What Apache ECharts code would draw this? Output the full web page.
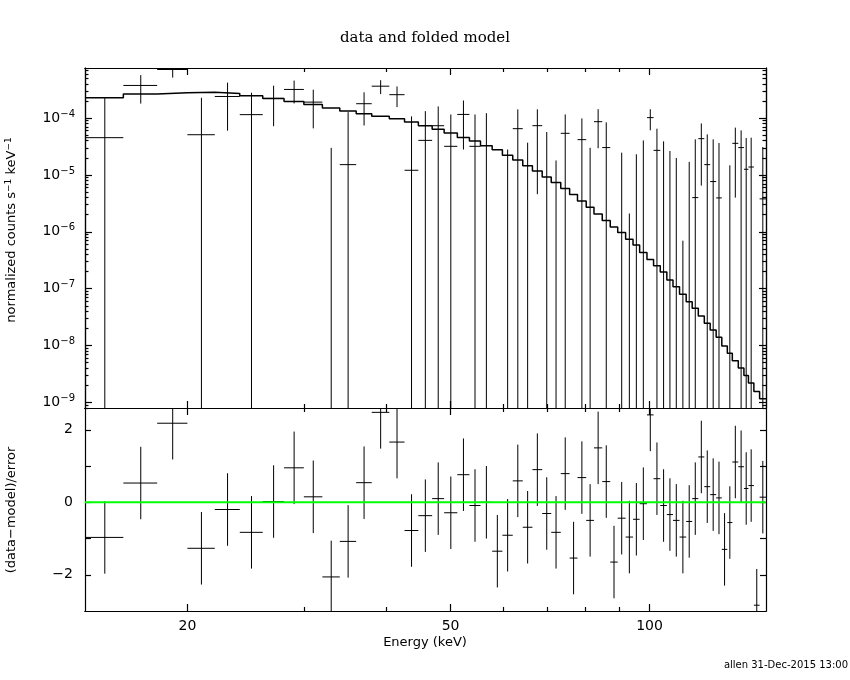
<!DOCTYPE html>
<html>
<head>
<meta charset="utf-8">
<script src="https://cdn.jsdelivr.net/npm/echarts@6/dist/echarts.min.js"></script>
<style>
html, body { margin: 0; padding: 0; background: #fff; }
#chart { width: 850px; height: 680px; }
</style>
</head>
<body>
<div id="chart"></div>
<script>
// 能道边界 (keV)
const binEdges = [14.0, 16.0, 18.0, 20.0, 22.0, 24.0, 26.0, 28.0, 30.0, 32.0,
    34.0, 36.0, 38.0, 40.4, 42.6, 44.7, 46.9, 48.9, 51.2, 53.4,
    55.5, 57.8, 59.9, 62.1, 64.3, 66.5, 68.8, 71.0, 73.4, 75.7,
    77.8, 80.2, 82.4, 84.8, 87.2, 89.5, 92.0, 94.4, 96.6, 99.1,
    101.4, 103.8, 106.2, 108.5, 111.0, 113.6, 116.0, 118.5, 121.0, 123.5,
    126.1, 128.6, 131.1, 133.4, 136.2, 138.9, 141.1, 143.8, 146.7, 150.0];

// 数据 counts s-1 keV-1
const rate = [4.53e-5, 3.75e-4, 7.15e-4, 5.1e-5, 2.4e-4, 1.15e-4, 2.22e-4, 3.19e-4, 1.91e-4, -8.3e-5,
    1.52e-5, 1.79e-4, 3.64e-4, 2.58e-4, 1.21e-5, 4.06e-5, 7.35e-5, 3.19e-5, 1.16e-4, 3.19e-5,
    3.3e-5, -8.7e-5, -4.9e-5, 6.52e-5, -3.5e-5, 7.36e-5, -1.2e-5, -4.5e-5, 5.4e-5, -9.1e-5,
    4.18e-5, -2.5e-5, 8.65e-5, 3.03e-5, -8.8e-5, -1.77e-5, -3.29e-5, -1.94e-5, -1.3e-6, 1.02e-4,
    2.71e-5, -3.6e-6, -1.34e-5, -1.97e-5, -3.83e-5, -1.9e-5, 4.0e-6, 4.35e-5, 1.52e-5, 7.66e-6,
    3.95e-6, -4.4e-5, -1.88e-5, 3.6e-5, 3.03e-5, 1.26e-5, 1.38e-5, -8.7e-5, 3.8e-6];
const rateErr = [1.79e-4, 1.95e-4, 2.0e-4, 1.77e-4, 1.8e-4, 1.64e-4, 1.5e-4, 1.38e-4, 1.25e-4, 1.13e-4,
    1.12e-4, 1.05e-4, 1.0e-4, 1.02e-4, 9.5e-5, 9.2e-5, 8.7e-5, 8.4e-5, 8.8e-5, 8.4e-5,
    8.9e-5, 8.5e-5, 7.7e-5, 7.7e-5, 7.2e-5, 6.9e-5, 6.9e-5, 6.3e-5, 6.2e-5, 6.2e-5,
    5.7e-5, 5.5e-5, 5.7e-5, 5.4e-5, 5.4e-5, 4.24e-5, 3.5e-5, 4.25e-5, 4.18e-5, 4.1e-5,
    3.8e-5, 4.26e-5, 3.98e-5, 3.96e-5, 3.9e-5, 3.6e-5, 3.83e-5, 3.7e-5, 3.66e-5, 3.46e-5,
    3.25e-5, 3.4e-5, 3.36e-5, 3.2e-5, 3.05e-5, 3.2e-5, 3.15e-5, 3.1e-5, 2.72e-5];

// 折叠模型
const modelRate = [2.28e-4, 2.64e-4, 2.79e-4, 2.86e-4, 2.71e-4, 2.47e-4, 2.22e-4, 1.96e-4, 1.74e-4, 1.5e-4,
    1.33e-4, 1.19e-4, 1.08e-4, 9.76e-5, 8.5e-5, 7.36e-5, 6.34e-5, 5.45e-5, 4.58e-5, 3.95e-5,
    3.28e-5, 2.79e-5, 2.22e-5, 1.83e-5, 1.46e-5, 1.17e-5, 9.22e-6, 7.36e-6, 5.77e-6, 4.53e-6,
    3.5e-6, 2.71e-6, 2.07e-6, 1.58e-6, 1.22e-6, 9.75e-7, 7.44e-7, 5.85e-7, 4.35e-7, 3.28e-7,
    2.54e-7, 1.96e-7, 1.42e-7, 1.08e-7, 7.97e-8, 5.92e-8, 4.53e-8, 3.32e-8, 2.47e-8, 1.88e-8,
    1.4e-8, 9.88e-9, 7.36e-9, 5.4e-9, 4.02e-9, 2.98e-9, 2.19e-9, 1.56e-9, 1.16e-9];

// 残差 (data-model)/error
const resid = [-0.97, 0.53, 2.18, -1.27, -0.2, -0.83, 0.02, 0.95, 0.15, -2.06,
    -1.08, 0.54, 2.48, 1.66, -0.78, -0.37, 0.1, -0.29, 0.76, -0.09,
    0.0, -1.35, -0.91, 0.59, -0.69, 0.9, -0.31, -0.83, 0.79, -1.54,
    0.68, -0.5, 1.5, 0.57, -1.65, -0.44, -0.96, -0.47, -0.04, 2.41,
    0.65, -0.09, -0.34, -0.5, -0.96, -0.53, 0.1, 1.25, 0.43, 0.21,
    0.12, -1.3, -0.56, 1.11, 0.98, 0.38, 0.46, -2.84, 0.14];
const residErr = [1, 1, 1, 1, 1, 1, 1, 1, 1, 1,
    1, 1, 1, 1, 1, 1, 1, 1, 1, 1,
    1, 1, 1, 1, 1, 1, 1, 1, 1, 1,
    1, 1, 1, 1, 1, 1, 1, 1, 1, 1,
    1, 1, 1, 1, 1, 1, 1, 1, 1, 1,
    1, 1, 1, 1, 1, 1, 1, 1, 1];

// 刻度
const xMajorTicks = [20, 50, 100];
const xMinorTicks = [30, 40, 60, 70, 80, 90];
const yMajorTicks = [1e-9, 1e-8, 1e-7, 1e-6, 1e-5, 1e-4];
const resTicks = [-2, -1, 0, 1, 2];
const resLabels = [-2, 0, 2];

const X_MIN = 14, X_MAX = 150;
const Y_MIN = 8.0e-10, Y_MAX = 7.6e-4;
const R_MIN = -3, R_MAX = 2.6;

let yMinorTicks = [];
for (let p = -10; p <= -4; p++) {
    for (let k = 2; k <= 9; k++) yMinorTicks.push(k * Math.pow(10, p));
}

const SANS = 'DejaVu Sans';
const BLACK = '#000';

// 十字误差棒
function crossRenderer(lo, hi) {
    return function (params, api) {
        const x0 = api.value(0), x1 = api.value(1), v = api.value(2), e = api.value(3);
        const mid = (x0 + x1) / 2;
        const children = [];
        const top = v + e, bot = v - e;
        if (top > lo) {
            const a = api.coord([mid, Math.min(top, hi)]);
            const b = api.coord([mid, Math.max(bot, lo)]);
            children.push({ type: 'line', shape: { x1: a[0], y1: a[1], x2: b[0], y2: b[1] },
                style: { stroke: BLACK, lineWidth: 1 } });
        }
        if (v > lo && v < hi) {
            const c = api.coord([x0, v]);
            const d = api.coord([x1, v]);
            children.push({ type: 'line', shape: { x1: c[0], y1: c[1], x2: d[0], y2: d[1] },
                style: { stroke: BLACK, lineWidth: 1 } });
        }
        return { type: 'group', children: children };
    };
}

let topData = [], resData = [], modelLine = [];
for (let i = 0; i < rate.length; i++) {
    topData.push([binEdges[i], binEdges[i + 1], rate[i], rateErr[i]]);
    resData.push([binEdges[i], binEdges[i + 1], resid[i], residErr[i]]);
    modelLine.push([binEdges[i], modelRate[i]]);
    modelLine.push([binEdges[i + 1], modelRate[i]]);
}

function xAxisDef(grid, pos, ticks, len, withLabel) {
    return {
        type: 'log', gridIndex: grid, position: pos, min: X_MIN, max: X_MAX,
        axisLine: { show: true, onZero: false, lineStyle: { color: BLACK, width: 1.2 } },
        axisTick: { show: true, inside: true, length: len, customValues: ticks,
            lineStyle: { color: BLACK, width: 1.2 } },
        axisLabel: withLabel ? { show: true, customValues: ticks, margin: 8,
            color: BLACK, fontFamily: SANS, fontSize: 14, formatter: v => String(Math.round(v)) }
            : { show: false },
        splitLine: { show: false }, minorTick: { show: false }
    };
}

function logYDef(pos, ticks, len, withLabel) {
    return {
        type: 'log', gridIndex: 0, position: pos, min: Y_MIN, max: Y_MAX,
        axisLine: { show: true, onZero: false, lineStyle: { color: BLACK, width: 1.2 } },
        axisTick: { show: true, inside: true, length: len, customValues: ticks,
            lineStyle: { color: BLACK, width: 1.2 } },
        axisLabel: withLabel ? {
            show: true, customValues: ticks, margin: 10, color: BLACK,
            formatter: v => '{b|10}{s|\u2212' + Math.abs(Math.round(Math.log10(v))) + '}',
            rich: {
                b: { fontFamily: SANS, fontSize: 14, color: BLACK },
                s: { fontFamily: SANS, fontSize: 10, color: BLACK, verticalAlign: 'top', padding: [0, 0, 8, 0] }
            }
        } : { show: false },
        splitLine: { show: false }
    };
}

function resYDef(pos, withLabel) {
    return {
        type: 'value', gridIndex: 1, position: pos, min: R_MIN, max: R_MAX,
        axisLine: { show: true, onZero: false, lineStyle: { color: BLACK, width: 1.2 } },
        axisTick: { show: true, inside: true, length: 6, customValues: resTicks,
            lineStyle: { color: BLACK, width: 1.2 } },
        axisLabel: withLabel ? { show: true, customValues: resLabels, margin: 12, color: BLACK,
            fontFamily: SANS, fontSize: 14,
            formatter: v => (v < 0 ? '\u2212' + Math.abs(v) : String(v)) } : { show: false },
        splitLine: { show: false }
    };
}

const chart = echarts.init(document.getElementById('chart'), null, { renderer: 'canvas' });

const option = {
    backgroundColor: '#fff',
    animation: false,
    grid: [
        { left: 85, right: 84, top: 68, height: 340 },
        { left: 85, right: 84, top: 408, height: 203 }
    ],
    xAxis: [
        xAxisDef(0, 'bottom', xMajorTicks, 7, false),
        xAxisDef(0, 'bottom', xMinorTicks, 4, false),
        xAxisDef(0, 'top', xMajorTicks, 7, false),
        xAxisDef(0, 'top', xMinorTicks, 4, false),
        xAxisDef(1, 'bottom', xMajorTicks, 7, true),
        xAxisDef(1, 'bottom', xMinorTicks, 4, false),
        xAxisDef(1, 'top', xMajorTicks, 7, false),
        xAxisDef(1, 'top', xMinorTicks, 4, false)
    ],
    yAxis: [
        logYDef('left', yMajorTicks, 7, true),
        logYDef('left', yMinorTicks, 3.5, false),
        logYDef('right', yMajorTicks, 7, false),
        logYDef('right', yMinorTicks, 3.5, false),
        resYDef('left', true),
        resYDef('right', false)
    ],
    graphic: [
        { type: 'text', left: 'center', top: 31,
            style: { text: 'data and folded model', font: '15px "DejaVu Serif"', fill: BLACK } },
        { type: 'text', x: 12, y: 230, rotation: Math.PI / 2,
            style: { text: 'normalized counts s{s|\u22121} keV{s|\u22121}', fill: BLACK,
                font: '13px "DejaVu Sans"', align: 'center', verticalAlign: 'middle',
                rich: { s: { fontSize: 9, fontFamily: SANS, verticalAlign: 'top', padding: [0, 0, 6, 0] } } } },
        { type: 'text', x: 12, y: 510, rotation: Math.PI / 2,
            style: { text: '(data\u2212model)/error', fill: BLACK, font: '13px "DejaVu Sans"',
                align: 'center', verticalAlign: 'middle' } },
        { type: 'text', x: 425, y: 643,
            style: { text: 'Energy (keV)', fill: BLACK, font: '13px "DejaVu Sans"',
                align: 'center', verticalAlign: 'middle' } },
        { type: 'text', x: 848, y: 665,
            style: { text: 'allen 31-Dec-2015 13:00', fill: BLACK, font: '10px "DejaVu Sans"',
                align: 'right', verticalAlign: 'middle' } }
    ],
    series: [
        {
            type: 'custom', name: 'data', xAxisIndex: 0, yAxisIndex: 0,
            renderItem: crossRenderer(Y_MIN, Y_MAX),
            encode: { x: [0, 1], y: [2] },
            data: topData, clip: true, silent: true, z: 3
        },
        {
            type: 'line', name: 'model', xAxisIndex: 0, yAxisIndex: 0,
            data: modelLine, showSymbol: false, symbol: 'none', clip: true, silent: true,
            lineStyle: { color: BLACK, width: 1.5 }, z: 4
        },
        {
            type: 'custom', name: 'residuals', xAxisIndex: 4, yAxisIndex: 4,
            renderItem: crossRenderer(R_MIN, R_MAX),
            encode: { x: [0, 1], y: [2] },
            data: resData, clip: true, silent: true, z: 3
        },
        {
            type: 'line', name: 'zero', xAxisIndex: 4, yAxisIndex: 4,
            data: [[X_MIN, 0], [X_MAX, 0]], showSymbol: false, symbol: 'none', silent: true,
            lineStyle: { color: '#00ff00', width: 2 }, z: 5
        }
    ]
};

chart.setOption(option);
</script>
</body>
</html>
